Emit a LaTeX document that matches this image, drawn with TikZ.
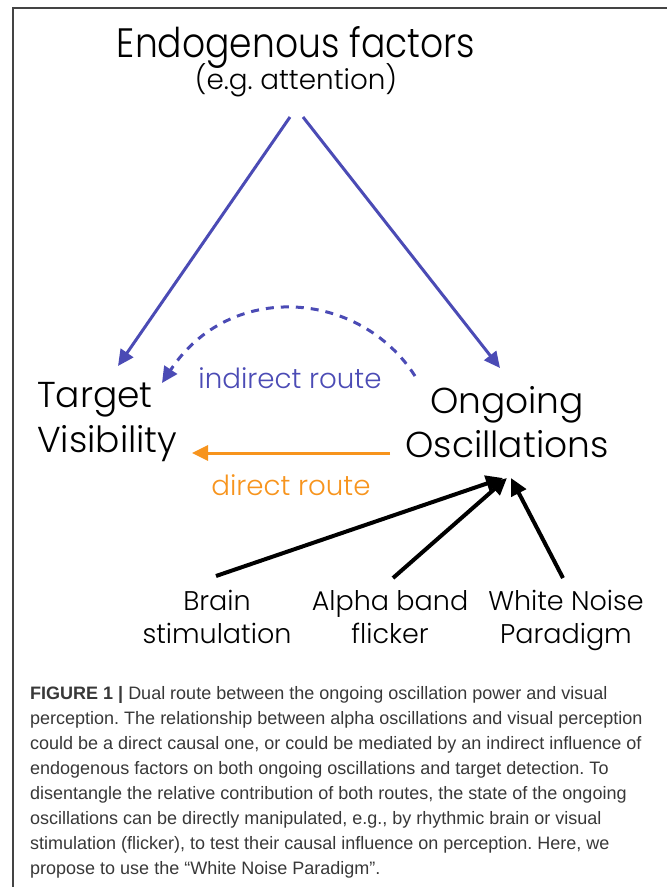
\documentclass[tikz,border=0pt]{standalone}
\usepackage{fontspec}
\usetikzlibrary{arrows.meta}
\setmainfont{Poppins}[UprightFont=* Light]
\newfontfamily\titlefont{Poppins}[UprightFont=* Light, FakeStretch=0.88]
\newfontfamily\capfont{Liberation Sans}
\frenchspacing
\definecolor{routeblue}{HTML}{4B4BB5}
\definecolor{routeorange}{HTML}{F7941D}
\definecolor{frame}{HTML}{444444}
\definecolor{captext}{HTML}{383838}
\tikzset{
  label/.style={inner sep=0pt, align=center, font=\fontsize{36}{42}\selectfont},
  small/.style={inner sep=0pt, font=\fontsize{27.7}{32}\selectfont},
  bottom/.style={inner sep=0pt, align=center, font=\fontsize{27}{32}\selectfont},
  blueline/.style={routeblue, line width=3pt, -{Triangle[length=16pt,width=15pt]}},
  dashline/.style={routeblue, line width=3pt, dash pattern=on 8pt off 7pt, -{Triangle[length=16pt,width=15pt]}},
  orangeline/.style={routeorange, line width=3pt, -{Triangle[length=16pt,width=15pt]}},
  blackline/.style={black, line width=4pt, -{Triangle[length=17pt,width=16pt]}},
  captionline/.style={inner sep=0pt, anchor=base west, text=captext, font=\capfont\fontsize{18}{25}\selectfont},
}
\begin{document}
\begin{tikzpicture}[x=1pt, y=-1pt]
\useasboundingbox (0,0) rectangle (667,887);
% panel frame, open to the right and below
\draw[frame, line width=1.6pt] (13,887) -- (13,8) -- (667,8);

% nodes
\node[inner sep=0pt, anchor=base, font=\titlefont\fontsize{41}{46}\selectfont] (endo) at (296,57) {Endogenous factors};
\node[inner sep=0pt, anchor=base, font=\fontsize{27.8}{32}\selectfont] (eg) at (296,89) {(e.g. attention)};
\node[label, anchor=base west] (tv1) at (37,407) {Target};
\node[label, anchor=base west] (tv2) at (37,452) {Visibility};
\node[label, anchor=base] (oo1) at (507,413) {Ongoing};
\node[label, anchor=base] (oo2) at (507,457) {Oscillations};
\node[small, anchor=base, text=routeblue] (ind) at (290,388) {indirect route};
\node[small, anchor=base, text=routeorange] (dir) at (291,495) {direct route};
\node[bottom, anchor=base] (br1) at (217,610) {Brain};
\node[bottom, anchor=base] (br2) at (217,643) {stimulation};
\node[bottom, anchor=base] (al1) at (390,610) {Alpha band};
\node[bottom, anchor=base] (al2) at (390,643) {flicker};
\node[bottom, anchor=base] (wn1) at (566,610) {White Noise};
\node[bottom, anchor=base] (wn2) at (566,643) {Paradigm};

% connector end points
\coordinate (eL) at (290,117);
\coordinate (eR) at (303,117);
\coordinate (tvIn) at (118,366);
\coordinate (ooIn) at (500,368);
\coordinate (arcS) at (415,376);
\coordinate (arcE) at (162,383);
\coordinate (dirS) at (390,453);
\coordinate (dirE) at (192,453);
\coordinate (ooB1) at (503,478);
\coordinate (ooB2) at (507,478);
\coordinate (ooB3) at (511,478);
\coordinate (brT) at (216,576);
\coordinate (alT) at (393,578);
\coordinate (wnT) at (563,578);

% connectors
\draw[blueline] (eL) -- (tvIn);
\draw[blueline] (eR) -- (ooIn);
\draw[dashline] (arcS) .. controls (360,290) and (230,280) .. (arcE);
\draw[orangeline] (dirS) -- (dirE);
\draw[blackline] (brT) -- (ooB1);
\draw[blackline] (alT) -- (ooB2);
\draw[blackline] (wnT) -- (ooB3);

% caption, one node per printed line
\node[captionline] (cap1) at (30,699) {\textbf{FIGURE 1 |} Dual route between the ongoing oscillation power and visual};
\node[captionline] (cap2) at (30,724) {perception. The relationship between alpha oscillations and visual perception};
\node[captionline] (cap3) at (30,749) {could be a direct causal one, or could be mediated by an indirect influence of};
\node[captionline] (cap4) at (30,774) {endogenous factors on both ongoing oscillations and target detection. To};
\node[captionline] (cap5) at (30,799) {disentangle the relative contribution of both routes, the state of the ongoing};
\node[captionline] (cap6) at (30,824) {oscillations can be directly manipulated, e.g., by rhythmic brain or visual};
\node[captionline] (cap7) at (30,849) {stimulation (flicker), to test their causal influence on perception. Here, we};
\node[captionline] (cap8) at (30,874) {propose to use the \textquotedblleft White Noise Paradigm\textquotedblright.};
\end{tikzpicture}
\end{document}
